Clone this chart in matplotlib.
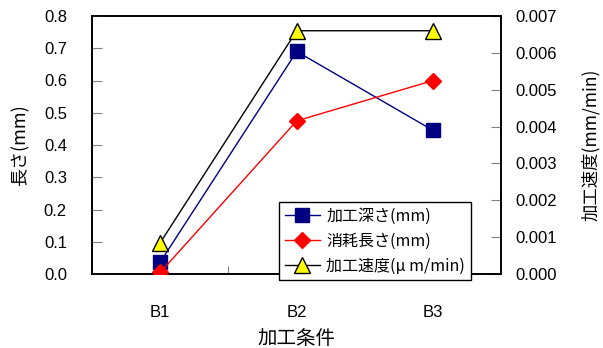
import matplotlib
matplotlib.use("Agg")
import matplotlib.pyplot as plt
from matplotlib.ticker import FixedLocator, FormatStrFormatter

plt.rcParams['font.family'] = ['Liberation Sans', 'Noto Sans CJK JP', 'DejaVu Sans']

categories = ["B1", "B2", "B3"]
depth = [0.037, 0.69, 0.445]
consumed = [0.005, 0.475, 0.60]
speed = [0.00085, 0.0066, 0.0066]

fig = plt.figure(figsize=(6.03, 3.48), dpi=100)
ax = fig.add_axes([92/603, 1-274/348, (501.5-92)/603, (274-16)/348])
ax2 = ax.twinx()

x = list(range(1, len(categories)+1))

l1, = ax.plot(x, depth, color="#000080", lw=1, marker="s", ms=10, mfc="#000080", mec="#000080",
              label="加工深さ(mm)", zorder=3)
l2, = ax.plot(x, consumed, color="#FF0000", lw=1, marker="D", ms=8, mfc="#FF0000", mec="#FF0000",
              label="消耗長さ(mm)", zorder=3)
l3, = ax2.plot(x, speed, color="black", lw=1, marker="^", ms=11, mfc="#FFFF00", mec="black",
               mew=1, label="加工速度(μ m/min)", zorder=3)

ax.set_xlim(0.5, 3.5)
ax.set_ylim(0, 0.8)
ax2.set_ylim(0, 0.007)
ax.set_yticks([i/10 for i in range(9)])
ax.yaxis.set_major_formatter(FormatStrFormatter("%.1f"))
ax2.set_yticks([i/1000 for i in range(8)])
ax2.yaxis.set_major_formatter(FormatStrFormatter("%.3f"))

ax.xaxis.set_major_locator(FixedLocator([1.5, 2.5]))
ax.xaxis.set_major_formatter(plt.NullFormatter())
ax.xaxis.set_minor_locator(FixedLocator(x))
ax.set_xticklabels(categories, minor=True)
ax.tick_params(axis="x", which="minor", length=0, pad=22, labelsize=12)
ax.tick_params(axis="x", which="major", direction="in", length=6, color="#808080")
ax.tick_params(axis="y", direction="in", length=7, labelsize=12, pad=18, color="#808080")
ax2.tick_params(axis="y", direction="in", length=7, labelsize=12, pad=10, color="#808080")

for a in (ax, ax2):
    for s in a.spines.values():
        s.set_color("black")
        s.set_linewidth(1.2)

ax.set_xlabel("加工条件", fontsize=14, family=['Noto Sans CJK JP'], labelpad=6)
ax.set_ylabel("長さ(mm)", fontsize=13, family=['Noto Sans CJK JP'], labelpad=0)
ax.yaxis.set_label_coords(-62/409.5, 0.5)
ax2.set_ylabel("加工速度(mm/min)", fontsize=12.5, family=['Noto Sans CJK JP'])
ax2.yaxis.set_label_coords(1 + (581-501.5)/409.5, 0.5)

leg = ax.legend(handles=[l1, l2, l3], loc="upper left",
                bbox_to_anchor=((279-92)/409.5, (274-202)/258),
                frameon=True, fancybox=False, edgecolor="black", framealpha=1,
                prop={'family': ['Noto Sans CJK JP'], 'size': 11.5},
                handlelength=2.2, borderpad=0.35, labelspacing=0.5, handletextpad=0.4,
                borderaxespad=0)
leg.get_frame().set_linewidth(1)
leg.set_zorder(10)
ax2.set_zorder(ax.get_zorder() - 1)
ax.patch.set_visible(False)
ax2.patch.set_visible(True)

fig.savefig("out.png", dpi=100)
